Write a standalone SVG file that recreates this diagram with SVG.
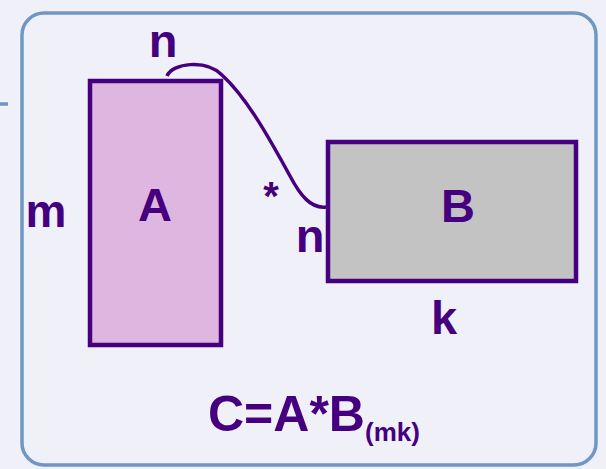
<svg xmlns="http://www.w3.org/2000/svg" width="606" height="469" viewBox="0 0 606 469">
<style>
.lbl{font-family:"Liberation Sans",Arial,sans-serif;font-weight:bold;fill:#46007f;text-anchor:middle}
.mat{stroke:#46007f;stroke-width:4.5}
.frame{fill:none;stroke:#7096c4;stroke-width:3.5}
</style>
<rect x="0" y="0" width="606" height="469" fill="#f0f0f9"/>
<g id="frame">
<rect class="frame" x="22" y="13" width="574" height="452" rx="22" ry="22"/>
<line class="frame" x1="0" y1="104" x2="8" y2="104"/>
</g>
<g id="connectors">
<path d="M167,76 C172,63 206,59 222,75 C245,96 266,132 290,176 C300,195 311,209 326,207" fill="none" stroke="#46007f" stroke-width="3.5"/>
</g>
<g id="A">
<rect class="mat" x="90" y="81" width="131" height="264" fill="#dfb6df"/>
<text class="lbl" x="155" y="221" font-size="47">A</text>
</g>
<g id="B">
<rect class="mat" x="328" y="142" width="248" height="139" fill="#c3c3c3"/>
<text class="lbl" x="458" y="222" font-size="47">B</text>
</g>
<g id="labels">
<text class="lbl" x="163" y="57" font-size="47">n</text>
<text class="lbl" x="46" y="227" font-size="46">m</text>
<text class="lbl" x="271" y="210" font-size="40">*</text>
<text class="lbl" x="310" y="252" font-size="47">n</text>
<text class="lbl" x="444" y="334" font-size="47">k</text>
<text class="lbl" x="208" y="431" font-size="50" style="text-anchor:start">C=A*B<tspan font-size="26" dy="10">(mk)</tspan></text>
</g>
</svg>
